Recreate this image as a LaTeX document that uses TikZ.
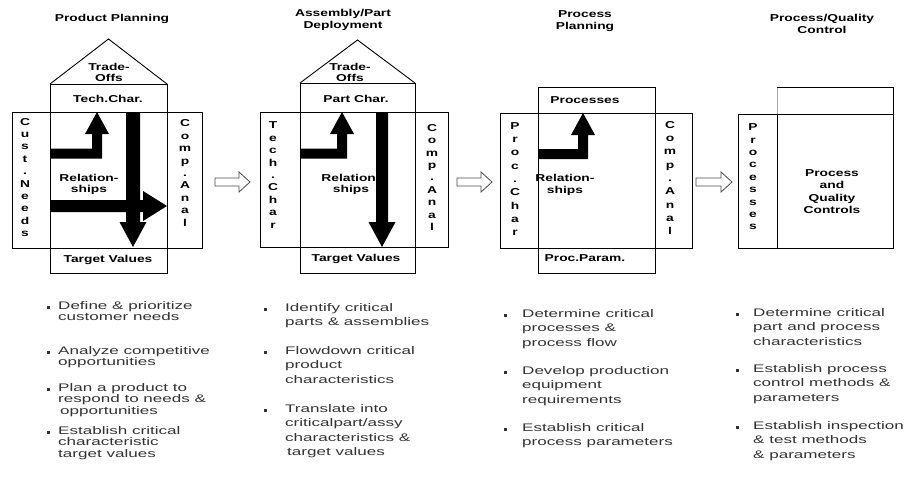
\documentclass[tikz,border=0pt]{standalone}
\usepackage{fontspec}
\setmainfont{Liberation Sans}
\newfontfamily\lblfont[FakeStretch=1.38]{Liberation Sans}
\newfontfamily\bulfont[FakeStretch=1.55]{Liberation Sans}
\tikzset{
  box/.style={draw=black, line width=0.9pt},
  lbl/.style={font=\lblfont\bfseries\fontsize{10}{11.5}\selectfont, inner sep=0pt, align=center},
  vlbl/.style={font=\lblfont\bfseries\fontsize{10}{12.4}\selectfont, inner sep=0pt, align=center},
  vlblw/.style={font=\lblfont\bfseries\fontsize{10}{13.3}\selectfont, inner sep=0pt, align=center},
  bul/.style={font=\bulfont\fontsize{11}{11.5}\selectfont, inner sep=0pt, align=left, anchor=north west, text=black!80},
  bulB/.style={font=\bulfont\fontsize{11}{14.5}\selectfont, inner sep=0pt, align=left, anchor=north west, text=black!80},
  dotm/.style={rectangle, fill=black!80, minimum size=3pt, inner sep=0pt, yshift=-2pt},
  blk/.style={fill=black},
  hollow/.style={draw=black!70, line width=0.8pt, fill=white, line join=miter},
}
\begin{document}
\begin{tikzpicture}[x=1pt,y=-1pt]
\useasboundingbox[fill=white] (0,0) rectangle (910,488);

% ---------- Panel 1: Product Planning ----------
\node[lbl] (t1) at (112,19) {Product Planning};
\draw[box] (50,84) -- (108.5,39) -- (167,84);
\draw[box] (12,112) rectangle (202,248);
\draw[box] (50,84) rectangle (167,273);
\node[lbl] (to1) at (109,72.5) {Trade-\\Offs};
\node[lbl] (tc1) at (108,99) {Tech.Char.};
\node[lbl] (tv1) at (108,260) {Target Values};
\node[lbl] (r1) at (89,184.5) {Relation-\\ships};
\node[vlbl] (cn1) at (25,177.5) {C\\u\\s\\t\\.\\N\\e\\e\\d\\s};
\node[vlbl] (ca1) at (185,173) {C\\o\\m\\p\\.\\A\\n\\a\\l};
\fill[blk] (50,148.5) -- (92,148.5) -- (92,134) -- (85,134) -- (97,112) -- (109,134) -- (102,134) -- (102,158.5) -- (50,158.5) -- cycle;
\fill[blk] (50,200) -- (143,200) -- (143,191) -- (167,206) -- (143,221) -- (143,212) -- (50,212) -- cycle;
\fill[blk] (126,112) -- (140,112) -- (140,222) -- (146.5,222) -- (133,247) -- (119.5,222) -- (126,222) -- cycle;

\draw[hollow] (215,178) -- (239,178) -- (239,172) -- (250,182) -- (239,192) -- (239,186) -- (215,186) -- cycle;

% ---------- Panel 2: Assembly/Part Deployment ----------
\node[lbl] (t2) at (343,20) {Assembly/Part\\Deployment};
\draw[box] (300,83) -- (357.5,40) -- (415,83);
\draw[box] (260,112) rectangle (448,247);
\draw[box] (300,83) rectangle (415,273);
\node[lbl] (to2) at (350,72.5) {Trade-\\Offs};
\node[lbl] (pc2) at (356,99) {Part Char.};
\node[lbl] (tv2) at (356,259) {Target Values};
\node[lbl] (r2) at (351,184.5) {Relation-\\ships};
\node[vlbl] (tch2) at (273,175) {T\\e\\c\\h\\.\\C\\h\\a\\r};
\node[vlbl] (ca2) at (432,177.5) {C\\o\\m\\p\\.\\A\\n\\a\\l};
\fill[blk] (300,148.5) -- (337,148.5) -- (337,134) -- (330,134) -- (342,112) -- (354,134) -- (347,134) -- (347,158.5) -- (300,158.5) -- cycle;
\fill[blk] (376,112) -- (388,112) -- (388,222) -- (395.5,222) -- (382,247) -- (368.5,222) -- (376,222) -- cycle;

\draw[hollow] (457,178) -- (481,178) -- (481,172) -- (492,182) -- (481,192) -- (481,186) -- (457,186) -- cycle;

% ---------- Panel 3: Process Planning ----------
\node[lbl] (t3) at (585,21) {Process\\Planning};
\draw[box] (500,113) rectangle (692,248);
\draw[box] (538,87) rectangle (655,273);
\node[lbl] (pr3) at (585,100) {Processes};
\node[lbl] (pp3) at (585,258) {Proc.Param.};
\node[lbl] (r3) at (565,185) {Relation-\\ships};
\node[vlblw] (pch3) at (515,179) {P\\r\\o\\c\\.\\C\\h\\a\\r};
\node[vlblw] (ca3) at (670,178) {C\\o\\m\\p\\.\\A\\n\\a\\l};
\fill[blk] (538,149) -- (578,149) -- (578,135) -- (571,135) -- (583,113) -- (595,135) -- (588,135) -- (588,159) -- (538,159) -- cycle;

\draw[hollow] (696,178) -- (721,178) -- (721,172) -- (732,182) -- (721,192) -- (721,186) -- (696,186) -- cycle;

% ---------- Panel 4: Process/Quality Control ----------
\node[lbl] (t4) at (822,24) {Process/Quality\\Control};
\draw[box, draw=black!35] (777,114) -- (777,87);
\draw[box] (777,87) -- (893,87) -- (893,114);
\draw[box] (738,114) rectangle (893,248);
\draw[box] (777,114) -- (777,248);
\node[vlbl] (ps4) at (753,177) {P\\r\\o\\c\\e\\s\\s\\e\\s};
\node[font=\lblfont\bfseries\fontsize{10}{12.3}\selectfont, inner sep=0pt, align=center] (pq4) at (832,191.5) {Process\\and\\Quality\\Controls};

% ---------- Bullet lists ----------
% column 1
\node[dotm] (d11) at (48,305.5) {};
\node[bul] (b11) at (58,301) {Define \& prioritize\\customer needs};
\node[dotm] (d12) at (48,350.5) {};
\node[bul] (b12) at (58,346) {Analyze competitive\\opportunities};
\node[dotm] (d13) at (48,387.5) {};
\node[bul] (b13) at (58,383) {Plan a product to\\respond to needs \&\\\hspace*{2pt}opportunities};
\node[dotm] (d14) at (48,430.5) {};
\node[bul] (b14) at (58,426) {Establish critical\\characteristic\\target values};
% column 2
\node[dotm] (d21) at (265,307.5) {};
\node[bulB] (b21) at (285,303) {Identify critical\\parts \& assemblies};
\node[dotm] (d22) at (265,350.5) {};
\node[bulB] (b22) at (285,346) {Flowdown critical\\product\\characteristics};
\node[dotm] (d23) at (265,408.5) {};
\node[bulB] (b23) at (285,404) {Translate into\\criticalpart/assy\\characteristics \&\\\hspace*{2pt}target values};
% column 3
\node[dotm] (d31) at (505,313.5) {};
\node[bulB] (b31) at (522,309) {Determine critical\\processes \&\\process flow};
\node[dotm] (d32) at (505,370.5) {};
\node[bulB] (b32) at (522,366) {Develop production\\equipment\\requirements};
\node[dotm] (d33) at (505,427.5) {};
\node[bulB] (b33) at (522,423) {Establish critical\\process parameters};
% column 4
\node[dotm] (d41) at (737,312.5) {};
\node[bulB] (b41) at (753,308) {Determine critical\\part and process\\characteristics};
\node[dotm] (d42) at (737,368.5) {};
\node[bulB] (b42) at (753,364) {Establish process\\control methods \&\\parameters};
\node[dotm] (d43) at (737,425.5) {};
\node[bulB] (b43) at (753,421) {Establish inspection\\\& test methods\\\& parameters};
\end{tikzpicture}
\end{document}
